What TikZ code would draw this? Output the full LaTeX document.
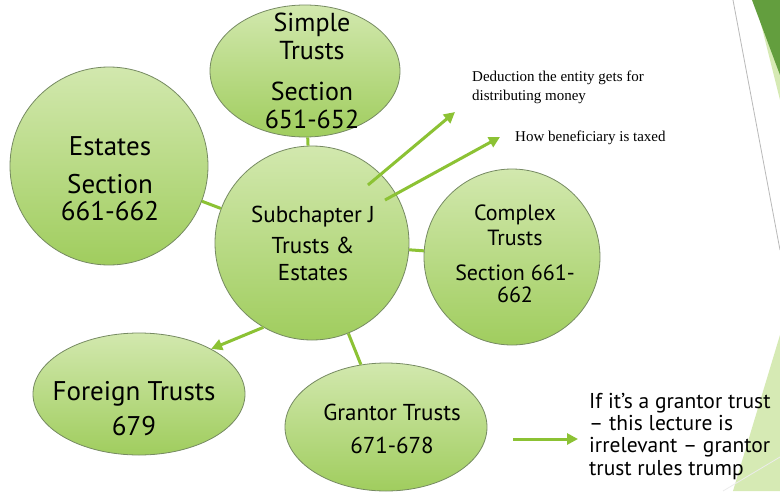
\documentclass[tikz,border=0pt]{standalone}
\usepackage{fontspec}
\setmainfont{PT Sans}
\newfontfamily\notefont{Liberation Serif}
\usetikzlibrary{shapes.geometric,arrows.meta}
\definecolor{linkgreen}{RGB}{140,194,52}
\definecolor{bubbletop}{RGB}{210,232,174}
\definecolor{bubblebot}{RGB}{160,205,94}
\definecolor{bubbleedge}{RGB}{118,138,98}
\definecolor{facetdark}{RGB}{99,158,62}
\definecolor{facetlight}{RGB}{214,234,180}
\definecolor{facetline}{RGB}{185,185,185}
\newcommand\sizept[1]{\fontsize{#1}{#1}\selectfont}

\begin{document}
\begin{tikzpicture}[x=1pt,y=-1pt,
  bubble/.style={draw=bubbleedge, line width=0.8pt, top color=bubbletop, bottom color=bubblebot, inner sep=0pt},
  round/.style={bubble, circle},
  oval/.style={bubble, ellipse},
  lbl/.style={anchor=base, inner sep=0pt, text=black},
  link/.style={draw=linkgreen, line width=3pt},
  arr/.style={link, -{Triangle[length=11pt,width=11pt]}},
  note/.style={anchor=base west, inner sep=0pt, font=\notefont\sizept{15}},
  side/.style={anchor=base west, inner sep=0pt, font=\sizept{21.5}},
]
\useasboundingbox (0,0) rectangle (780,491);
\fill[white] (0,0) rectangle (780,491);

% facets along the right edge
\fill[facetlight] (755,0) -- (780,0) -- (780,100) -- cycle;
\fill[facetdark] (752,0) -- (780,0) -- (780,75) -- cycle;
\draw[facetline, line width=0.8pt] (733,0) -- (780,250);
\fill[facetlight] (780,335) -- (733,491) -- (780,491) -- cycle;
\draw[white!85!gray, line width=0.8pt] (723,491) -- (780,457);

% bubbles
\node[round, minimum size=194pt] (cen) at (312,243) {};
\node[oval, minimum width=190pt, minimum height=132pt] (simple) at (305,71) {};
\node[round, minimum size=198pt] (est) at (109,166) {};
\node[round, minimum size=176pt] (cplx) at (512,257) {};
\node[oval, minimum width=212pt, minimum height=122pt] (frgn) at (139,394) {};
\node[oval, minimum width=202pt, minimum height=128pt] (grnt) at (386,427) {};

% connectors
\draw[link] (simple) -- (cen);
\draw[link] (est) -- (cen);
\draw[link] (cen) -- (cplx);
\draw[link] (cen) -- (grnt);
\draw[arr] (cen.240) -- (frgn.32);

\coordinate (d0) at (368,185); \coordinate (d1) at (455,112);
\coordinate (b0) at (385,200); \coordinate (b1) at (500,137);
\coordinate (g0) at (513,439); \coordinate (g1) at (578,439);
\draw[arr] (d0) -- (d1);
\draw[arr] (b0) -- (b1);
\draw[arr] (g0) -- (g1);

% bubble texts
\node[lbl, font=\sizept{26}] (s1) at (312,31) {Simple};
\node[lbl, font=\sizept{26}] (s2) at (312,59) {Trusts};
\node[lbl, font=\sizept{26}] (s3) at (312,100) {Section};
\node[lbl, font=\sizept{26}] (s4) at (312,128) {651-652};

\node[lbl, font=\sizept{27}] (e1) at (110,155) {Estates};
\node[lbl, font=\sizept{27}] (e2) at (110,193) {Section};
\node[lbl, font=\sizept{27}] (e3) at (110,220) {661-662};

\node[lbl, font=\sizept{23}] (c1) at (313,222) {Subchapter J};
\node[lbl, font=\sizept{23}] (c2) at (313,253) {Trusts \&};
\node[lbl, font=\sizept{23}] (c3) at (313,280) {Estates};

\node[lbl, font=\sizept{22}] (x1) at (515,220) {Complex};
\node[lbl, font=\sizept{22}] (x2) at (515,245) {Trusts};
\node[lbl, font=\sizept{22}] (x3) at (515,280) {Section 661-};
\node[lbl, font=\sizept{22}] (x4) at (515,302) {662};

\node[lbl, font=\sizept{27}] (f1) at (134,400) {Foreign Trusts};
\node[lbl, font=\sizept{27}] (f2) at (134,435) {679};

\node[lbl, font=\sizept{23}] (g1t) at (392,420) {Grantor Trusts};
\node[lbl, font=\sizept{23}] (g2t) at (392,453) {671-678};

% side notes
\node[note] (n1) at (472,81.7) {Deduction the entity gets for};
\node[note] (n2) at (472,100) {distributing money};
\node[note] (n3) at (515,141.7) {How beneficiary is taxed};

\node[side] (r1) at (589,408) {If it’s a grantor trust};
\node[side] (r2) at (589,430) {– this lecture is};
\node[side] (r3) at (589,452) {irrelevant – grantor};
\node[side] (r4) at (589,475) {trust rules trump};
\end{tikzpicture}
\end{document}
